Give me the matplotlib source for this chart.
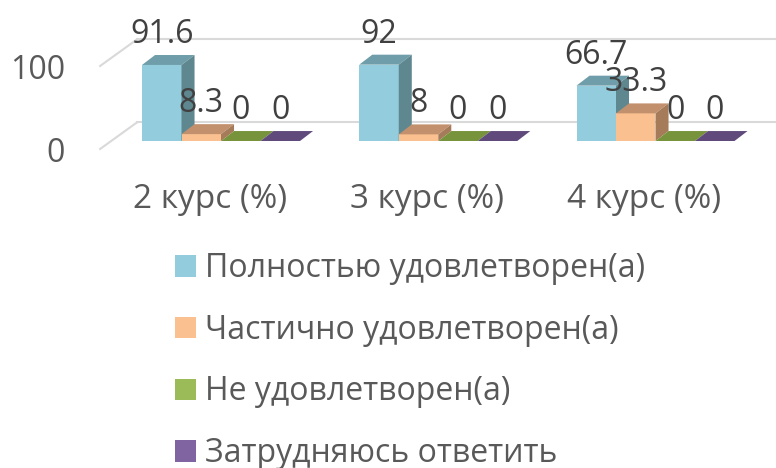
import matplotlib.pyplot as plt
from matplotlib.patches import Polygon, Patch

# Данные
kursy = ["2 курс (%)", "3 курс (%)", "4 курс (%)"]
serii = ["Полностью удовлетворен(а)", "Частично удовлетворен(а)",
         "Не удовлетворен(а)", "Затрудняюсь ответить"]
polnostyu = [91.6, 92, 66.7]
chastichno = [8.3, 8, 33.3]
ne_udovl = [0, 0, 0]
zatrud = [0, 0, 0]
os_y = [0, 100]

znacheniya = [polnostyu, chastichno, ne_udovl, zatrud]
labels_txt = [["91.6", "92", "66.7"], ["8.3", "8", "33.3"], ["0", "0", "0"], ["0", "0", "0"]]

# цвета: лицевая грань, верх, бок
cveta = [("#93CDDD", "#6F9EAA", "#5E8790"),
         ("#FAC090", "#C2906C", "#A57B5A"),
         ("#9BBB59", "#77933C", "#627A31"),
         ("#8064A2", "#604A7B", "#4F3D66")]

plt.rcParams['font.family'] = ['Open Sans', 'DejaVu Sans']
tekst = "#595959"
fs = 23

W, H = 776, 468
px_x = 39.5      # пикселей на ширину столбца
px_y = 0.83      # пикселей на единицу значения
x0, y0 = 142, 141

fig = plt.figure(figsize=(W / 100, H / 100), dpi=100)
ax = fig.add_axes([0, 0, 1, 1])
ax.set_xlim(-x0 / px_x, (W - x0) / px_x)
ax.set_ylim(-(H - y0) / px_y, y0 / px_y)
ax.axis("off")

shag = 5.5          # расстояние между группами
dx, dy = 0.33, 12   # глубина столбца
wy = 22.3           # смещение задней стенки
fx, fy = -1.06, -9.6

# линии сетки на задней стенке
for v in os_y:
    ax.plot([fx, -0.13], [v + fy, v + wy], color="#D9D9D9", lw=1.5, zorder=1)
    ax.plot([-0.13, 30], [v + wy, v + wy], color="#D9D9D9", lw=1.5, zorder=1)
    ax.text(-1.95, v + fy - 6, str(v), ha="right", va="center", fontsize=fs, color=tekst)

z = 2
for g in range(len(kursy)):
    for s in range(len(serii)):
        v = znacheniya[s][g]
        x = g * shag + s
        front, top, side = cveta[s]
        ax.bar(x, v, width=1, align="edge", color=front, zorder=z)
        ax.add_patch(Polygon([(x, v), (x + 1, v), (x + 1 + dx, v + dy), (x + dx, v + dy)],
                             closed=True, facecolor=top, edgecolor="none", zorder=z))
        if v > 0:
            ax.add_patch(Polygon([(x + 1, 0), (x + 1, v), (x + 1 + dx, v + dy), (x + 1 + dx, dy)],
                                 closed=True, facecolor=side, edgecolor="none", zorder=z))
        z += 1
    for s in range(len(serii)):
        v = znacheniya[s][g]
        x = g * shag + s
        ax.text(x + 0.5, v + 26.5, labels_txt[s][g], ha="center", va="baseline",
                fontsize=fs, color="#404040", zorder=50)
    ax.text(g * shag + 1.72, -71, kursy[g], ha="center", va="center", fontsize=fs + 1, color=tekst)

handles = [Patch(facecolor=c[0], edgecolor="none") for c in cveta]
fig.legend(handles, serii, loc="upper left", bbox_to_anchor=(175 / W, 1 - 252 / H),
           frameon=False, fontsize=fs, borderpad=0, borderaxespad=0,
           handlelength=0.66, handleheight=0.66, handletextpad=0.28, labelspacing=0.9,
           labelcolor=tekst)

fig.savefig("out.png", dpi=100)
